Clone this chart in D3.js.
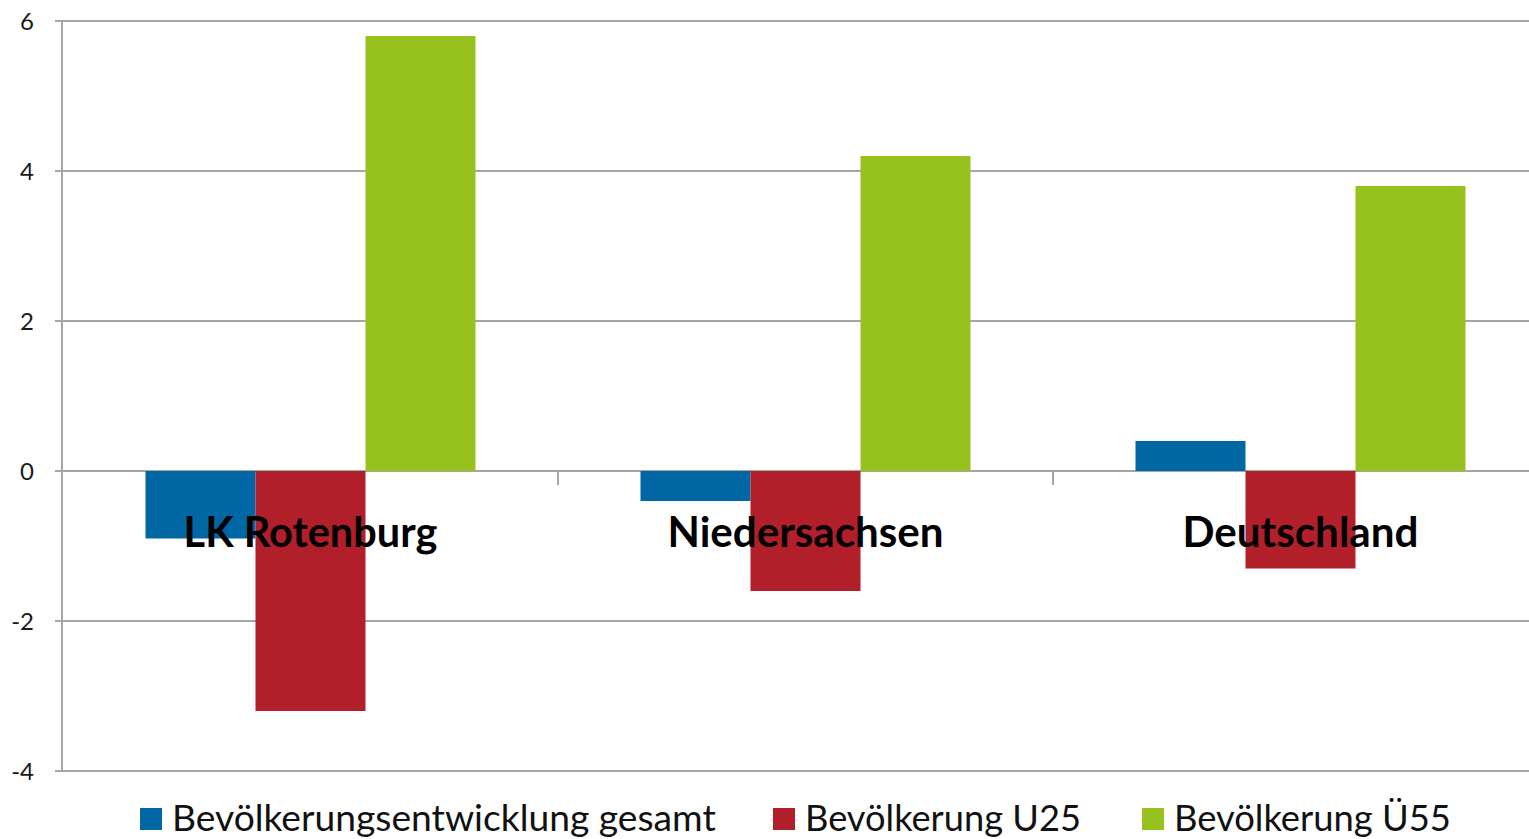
<!DOCTYPE html>
<html><head><meta charset="utf-8">
<script src="https://cdn.jsdelivr.net/npm/d3@7"></script>
<style>
body{margin:0;background:#fff;}
text{font-family:Lato,"Open Sans",sans-serif;}
</style></head>
<body><svg id="c" width="1529" height="839"></svg>
<script>
const categories = ["LK Rotenburg", "Niedersachsen", "Deutschland"];
const seriesNames = ["Bevölkerungsentwicklung gesamt", "Bevölkerung U25", "Bevölkerung Ü55"];
const gesamt = [-0.9, -0.4, 0.4];
const u25 = [-3.2, -1.6, -1.3];
const ue55 = [5.8, 4.2, 3.8];
const yTicks = [-4, -2, 0, 2, 4, 6];
const colors = ["#0066a4", "#b01f2a", "#97c21e"];

(function(){
const series = [gesamt, u25, ue55];
const svg = d3.select("#c");
const pl = 63, pr = 1548, pt = 21, pb = 771;

const x = d3.scaleBand().domain(categories).range([pl, pr]);
const y = d3.scaleLinear().domain([-4, 6]).range([pb, pt]);
const inner = d3.scaleBand().domain(d3.range(series.length))
  .range([0, x.bandwidth()]).paddingInner(0).paddingOuter(0.75);

svg.append("g").selectAll("line").data(yTicks).join("line")
  .attr("x1", pl - 8).attr("x2", 1529)
  .attr("y1", d => y(d)).attr("y2", d => y(d))
  .attr("stroke", "#a6a6a6").attr("stroke-width", 2);

svg.append("line").attr("x1", pl - 1).attr("x2", pl - 1)
  .attr("y1", y(6)).attr("y2", y(-4)).attr("stroke", "#a6a6a6").attr("stroke-width", 2);

svg.append("g").selectAll("text").data(yTicks).join("text")
  .attr("x", 34).attr("y", d => y(d)).attr("dy", "0.36em")
  .attr("text-anchor", "end").attr("font-size", 24).attr("fill", "#1a1a1a")
  .text(d => d);

series.forEach((vals, si) => {
  svg.append("g").selectAll("rect").data(categories).join("rect")
    .attr("x", c => x(c) + inner(si))
    .attr("width", inner.bandwidth())
    .attr("y", (c, i) => y(Math.max(0, vals[i])))
    .attr("height", (c, i) => Math.abs(y(vals[i]) - y(0)))
    .attr("fill", colors[si]);
});

const bounds = categories.map(c => x(c)).slice(1);
svg.append("g").selectAll("line").data(bounds).join("line")
  .attr("x1", d => d).attr("x2", d => d)
  .attr("y1", y(0)).attr("y2", y(0) + 14)
  .attr("stroke", "#a6a6a6").attr("stroke-width", 2);

function fit(sel, target, base) {
  sel.attr("font-size", base);
  const w = sel.node().getComputedTextLength();
  sel.attr("font-size", base * target / w);
}

const catW = [254, 276, 236];
const cg = svg.append("g");
categories.forEach((c, i) => {
  const t = cg.append("text")
    .attr("x", x(c) + x.bandwidth() / 2).attr("y", 547)
    .attr("text-anchor", "middle").attr("font-weight", "bold")
    .attr("fill", "#000").text(c);
  fit(t, catW[i], 40);
});

const legX = [140, 773, 1142];
const legW = [544, 276, 277];
const lg = svg.append("g");
seriesNames.forEach((n, i) => {
  lg.append("rect").attr("x", legX[i]).attr("y", 808).attr("width", 22).attr("height", 22).attr("fill", colors[i]);
  const t = lg.append("text").attr("x", legX[i] + 32).attr("y", 831).attr("fill", "#111").text(n);
  fit(t, legW[i], 36);
});
})();
</script></body></html>
